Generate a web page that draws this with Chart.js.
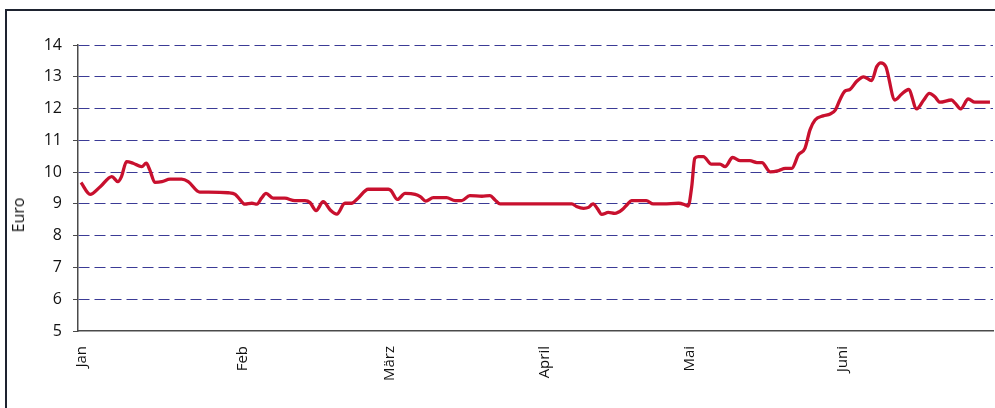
<!DOCTYPE html>
<html lang="de">
<head>
<meta charset="utf-8">
<title>Kursverlauf in Euro</title>
<script src="https://cdn.jsdelivr.net/npm/chart.js@4.4.1/dist/chart.umd.min.js"></script>
<style>
  html, body { margin:0; padding:0; background:#fff; }
  #wrap { position:relative; width:995px; height:408px; overflow:hidden; }
  #frame { position:absolute; left:5px; top:9px; width:1200px; height:600px;
           border-left:2px solid #1e2330; border-top:2px solid #1e2330; }
  #chart { position:absolute; left:0; top:0; }
  #ytitle { position:absolute; left:18px; top:215px; transform:translate(-50%,-50%) rotate(-90deg);
            font:16px "Open Sans", sans-serif; color:#111; white-space:nowrap; }
</style>
</head>
<body>
<div id="wrap">
  <div id="frame"></div>
  <canvas id="chart" width="995" height="408"></canvas>
  <div id="ytitle">Euro</div>
</div>
<script>
// day of the half year (0 = 1. Jan) and price in Euro
const days = [
  0.6, 2.4, 4.4, 6.7, 7.9, 8.6, 9.6, 10.9, 12.6, 13.5, 14.2, 15.2, 16.6, 18.2, 20.5, 21.8,
  24.1, 25.8, 29.7, 31.1, 32.0, 33.0, 34.4, 35.4, 36.3, 37.2, 38.6, 40.9, 42.9, 44.9,
  45.9, 47.1, 48.5, 49.9, 51.2, 52.8, 54.1, 55.4, 57.4, 59.7, 61.4, 61.9, 63.2, 64.7,
  66.7, 67.7, 68.8, 70.3, 72.9, 74.6, 75.9, 77.5, 79.9, 81.5, 82.5, 83.5, 92.4, 97.7,
  98.6, 100.0, 101.0, 101.9, 102.7, 103.6, 104.9, 106.2, 107.6, 108.7, 109.5, 110.8,
  112.4, 113.8, 115.8, 118.8, 120.1, 120.7, 121.4, 122.0, 122.7, 123.7, 125.3, 127.0,
  128.0, 129.5, 131.0, 132.9, 134.3, 135.3, 136.9, 138.6, 139.9, 141.2, 142.5, 143.8,
  144.8, 145.8, 147.4, 148.8, 149.8, 150.7, 151.7, 152.7, 154.0, 155.4, 157.0, 158.0,
  158.8, 159.8, 161.6, 162.9, 164.3, 165.9, 167.3, 168.4, 169.5, 170.5, 172.8, 173.5,
  174.6, 176.1, 177.4, 180.4
];
const euro = [
  9.67, 9.30, 9.54, 9.86, 9.70, 9.86, 10.33, 10.28, 10.17, 10.28, 10.07, 9.68, 9.70, 9.78, 9.78, 9.70,
  9.37, 9.37, 9.35, 9.30, 9.14, 8.99, 9.02, 8.99, 9.18, 9.33, 9.18, 9.18, 9.10, 9.10,
  9.04, 8.79, 9.07, 8.81, 8.68, 9.02, 9.02, 9.18, 9.46, 9.46, 9.46, 9.42, 9.14, 9.33,
  9.30, 9.23, 9.09, 9.20, 9.20, 9.10, 9.10, 9.26, 9.24, 9.26, 9.12, 9.00, 9.00, 9.00,
  8.92, 8.86, 8.89, 9.00, 8.86, 8.67, 8.73, 8.70, 8.81, 8.99, 9.10, 9.10,
  9.10, 9.00, 9.00, 9.02, 8.97, 8.93, 9.54, 10.43, 10.49, 10.49, 10.25, 10.25,
  10.17, 10.46, 10.36, 10.36, 10.30, 10.30, 10.01, 10.05, 10.12, 10.12, 10.54, 10.75,
  11.33, 11.64, 11.77, 11.83, 11.95, 12.27, 12.55, 12.60, 12.85, 13.00, 12.88, 13.32,
  13.44, 13.32, 12.27, 12.45, 12.60, 11.99, 12.27, 12.48, 12.37, 12.20, 12.27, 12.17,
  11.99, 12.30, 12.20, 12.20
];
const monthLabels = ["Jan", "Feb", "März", "April", "Mai", "Juni"];
const monthTicks = [0.8, 32.6, 61.7, 92.4, 121.1, 151.3];
const yMin = 5, yMax = 14;

const lineColor = "#c8102e";
const gridColor = "#3b3b96";
const axisColor = "#4a4a4a";
const textColor = "#111";

new Chart(document.getElementById("chart"), {
  type: "line",
  data: {
    datasets: [{
      label: "Euro",
      data: days.map((d, i) => ({ x: d, y: euro[i] })),
      borderColor: lineColor,
      borderWidth: 3.3,
      pointRadius: 0,
      cubicInterpolationMode: "monotone",
      fill: false
    }]
  },
  options: {
    responsive: false,
    animation: false,
    layout: { padding: { left: 0, top: 45, right: 2, bottom: 0 } },
    plugins: { legend: { display: false }, tooltip: { enabled: false } },
    scales: {
      x: {
        type: "linear",
        min: 0,
        max: 181,
        afterBuildTicks: s => { s.ticks = monthTicks.map(v => ({ value: v })); },
        afterFit: s => { s.height = 77; },
        ticks: {
          autoSkip: false,
          minRotation: 90,
          maxRotation: 90,
          padding: 15,
          color: textColor,
          font: { family: "'Open Sans', sans-serif", size: 15 },
          callback: (v, i) => monthLabels[i]
        },
        grid: { display: false, drawTicks: false },
        border: { display: true, color: axisColor, width: 1.5 }
      },
      y: {
        min: yMin,
        max: yMax,
        afterFit: s => { s.width = 78; },
        ticks: {
          stepSize: 1,
          padding: 11,
          color: textColor,
          font: { family: "'Open Sans', sans-serif", size: 16 }
        },
        grid: {
          color: c => (c.tick && c.tick.value === yMin) ? "rgba(0,0,0,0)" : gridColor,
          lineWidth: 1,
          drawTicks: true,
          tickLength: 5,
          tickColor: axisColor
        },
        border: { display: true, color: axisColor, width: 1.5, dash: [11, 5] }
      }
    }
  }
});
</script>
</body>
</html>
